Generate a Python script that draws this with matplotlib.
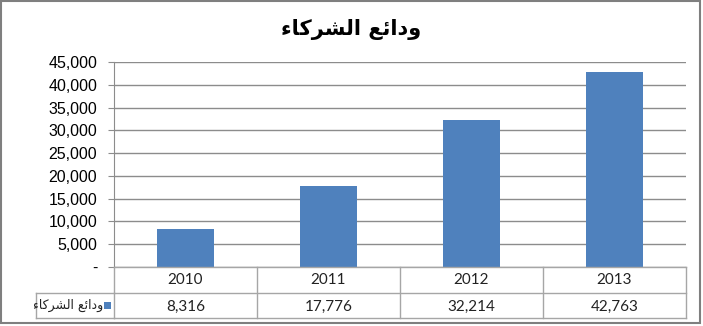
import matplotlib
matplotlib.use("Agg")
import matplotlib.pyplot as plt
import matplotlib.transforms as mtransforms
from matplotlib.patches import Rectangle

# data
years = ['2010', '2011', '2012', '2013']
deposits = [8316, 17776, 32214, 42763]
y_ticks = [0, 5000, 10000, 15000, 20000, 25000, 30000, 35000, 40000, 45000]
y_tick_labels = ['-', '5,000', '10,000', '15,000', '20,000', '25,000',
                 '30,000', '35,000', '40,000', '45,000']
chart_title = 'ودائع الشركاء'
series_name = 'ودائع الشركاء'

BAR_COLOR = '#4F81BD'
GRID_COLOR = '#8C8C8C'
CELL_COLOR = '#A6A6A6'

# minimal arabic shaping (matplotlib has no bidi / joining)
# char: (isolated, final, initial, medial)
FORMS = {
    '\u0648': ('\uFEED', '\uFEEE', None, None),
    '\u062F': ('\uFEA9', '\uFEAA', None, None),
    '\u0627': ('\uFE8D', '\uFE8E', None, None),
    '\u0631': ('\uFEAD', '\uFEAE', None, None),
    '\u0626': ('\uFE89', '\uFE8A', '\uFE8B', '\uFE8C'),
    '\u0639': ('\uFEC9', '\uFECA', '\uFECB', '\uFECC'),
    '\u0644': ('\uFEDD', '\uFEDE', '\uFEDF', '\uFEE0'),
    '\u0634': ('\uFEB5', '\uFEB6', '\uFEB7', '\uFEB8'),
    '\u0643': ('\uFED9', '\uFEDA', '\uFEDB', '\uFEDC'),
    '\u0621': ('\uFE80', None, None, None),
}


def joins_next(c):
    return c in FORMS and FORMS[c][2] is not None


def joins_prev(c):
    return c in FORMS and FORMS[c][1] is not None


def shape(text):
    out = []
    for i, c in enumerate(text):
        if c not in FORMS:
            out.append(c)
            continue
        prev_c = text[i - 1] if i > 0 else ''
        next_c = text[i + 1] if i + 1 < len(text) else ''
        p = joins_next(prev_c) and joins_prev(c)
        n = joins_next(c) and joins_prev(next_c)
        iso, fin, ini, med = FORMS[c]
        if p and n:
            out.append(med)
        elif p:
            out.append(fin)
        elif n:
            out.append(ini)
        else:
            out.append(iso)
    return ''.join(reversed(out))


W, H = 703, 326
fig = plt.figure(figsize=(W / 100, H / 100), dpi=100)
fig.patch.set_facecolor('white')

# pixel coords, y going down
pix = mtransforms.Affine2D().scale(1, -1).translate(0, H).scale(1 / W, 1 / H) + fig.transFigure

left, right, top, bottom = 114, 686, 62, 267
ax = fig.add_axes([left / W, (H - bottom) / H, (right - left) / W, (bottom - top) / H])

x = list(range(len(years)))
ax.bar(x, deposits, width=0.4, color=BAR_COLOR, zorder=3)
ax.set_xlim(-0.5, len(years) - 0.5)
ax.set_ylim(0, 45000)
ax.set_yticks(y_ticks)
ax.set_yticklabels(y_tick_labels, fontfamily='Liberation Sans', fontsize=11.5)
ax.set_xticks([])
ax.yaxis.grid(True, color=GRID_COLOR, linewidth=1)
ax.set_axisbelow(True)
for s in ['top', 'right', 'bottom']:
    ax.spines[s].set_visible(False)
ax.spines['left'].set_color(GRID_COLOR)
ax.tick_params(axis='y', length=4, color=GRID_COLOR, pad=8)

# data table below the plot
row1, row2, row3 = bottom, 293, 318
key_left = 36
tb = mtransforms.blended_transform_factory(ax.transData, pix)
x0, x1 = -0.5, len(years) - 0.5
lw = 1
for yy in [row1, row2, row3]:
    fig.add_artist(plt.Line2D([x0, x1], [yy, yy], transform=tb, color=CELL_COLOR, lw=lw))
for yy in [row2, row3]:
    fig.add_artist(plt.Line2D([key_left, left], [yy, yy], transform=pix, color=CELL_COLOR, lw=lw))
fig.add_artist(plt.Line2D([key_left, key_left], [row2, row3], transform=pix, color=CELL_COLOR, lw=lw))
for i in range(len(years) + 1):
    xe = i - 0.5
    fig.add_artist(plt.Line2D([xe, xe], [row1, row3], transform=tb, color=CELL_COLOR, lw=lw))

for i, (yr, v) in enumerate(zip(years, deposits)):
    fig.text(i, (row1 + row2) / 2, yr, transform=tb, ha='center', va='center',
             fontfamily='Lato', fontsize=11, color='#222222')
    fig.text(i, (row2 + row3) / 2 + 1, f'{v:,}', transform=tb, ha='center', va='center',
             fontfamily='Lato', fontsize=11, color='#222222')

# legend key cell
fig.add_artist(Rectangle((104, 302), 7, 7, transform=pix, facecolor=BAR_COLOR, edgecolor='none'))
fig.text(103, (row2 + row3) / 2, shape(series_name), transform=pix, ha='right', va='center',
         fontfamily='DejaVu Sans', fontsize=9, color='#222222')

# title
fig.text(351, 29, shape(chart_title), transform=pix, ha='center', va='center',
         fontfamily='DejaVu Sans', fontweight='bold', fontsize=15, color='black')

# chart border
fig.add_artist(Rectangle((1, 1), 699, 322, transform=pix, facecolor='none',
                         edgecolor='#7F7F7F', lw=1.5))

fig.savefig('out.png', dpi=100)
